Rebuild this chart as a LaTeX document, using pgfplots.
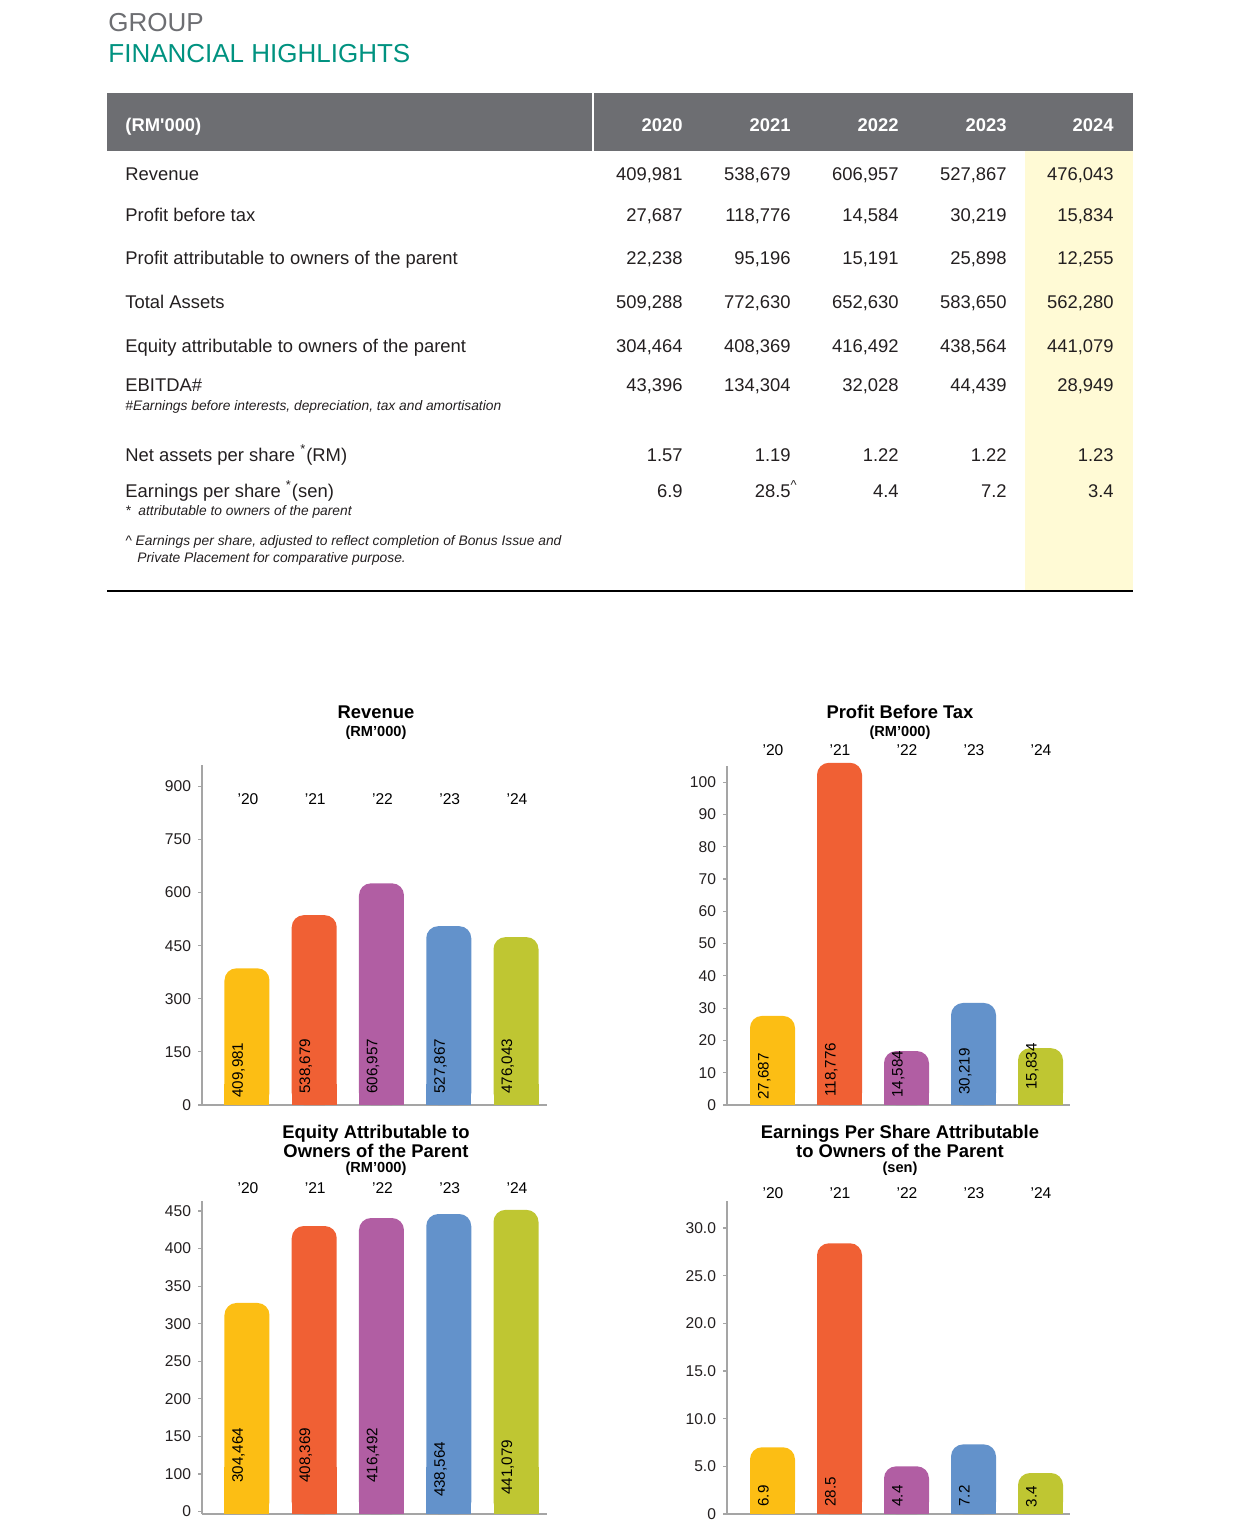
\documentclass[border=0pt]{standalone}
\usepackage{fontspec}
\setmainfont{Liberation Sans}
\usepackage{pgfplots}
\pgfplotsset{compat=1.18}

\definecolor{hdrgray}{RGB}{109,110,114}
\definecolor{fhteal}{RGB}{0,146,128}
\definecolor{colyel}{RGB}{255,250,213}
\definecolor{cY}{RGB}{252,190,20}
\definecolor{cO}{RGB}{240,96,52}
\definecolor{cP}{RGB}{177,94,163}
\definecolor{cB}{RGB}{99,146,203}
\definecolor{cG}{RGB}{191,198,50}
\definecolor{axgray}{RGB}{165,165,165}
\definecolor{txt}{RGB}{35,31,32}

\newcommand\fs[1]{\fontsize{#1}{#1}\selectfont}

% one bar with a rounded top: colour, x, height, height of square foot
\newcommand\rbar[4]{%
  \addplot[ybar, bar width=22.5pt, bar shift=0pt, fill=#1, draw=none, rounded corners=6pt, forget plot] coordinates {(#2,#3)};
  \addplot[ybar, bar width=22.5pt, bar shift=0pt, fill=#1, draw=none, forget plot] coordinates {(#2,#4)};
}
% vertical value label at the foot of a bar: x, y of text start, text
\newcommand\blab[3]{%
  \addplot[draw=none, forget plot, nodes near coords, point meta=explicit symbolic,
    nodes near coords style={font=\fs{7.6}, text=black, anchor=base west, inner sep=0pt,
      xshift=-2pt, rotate=90}] coordinates {(#1,#2) [#3]};
}

\pgfplotsset{fhbar/.style={
  scale only axis, clip=false,
  axis x line=bottom, axis y line=left,
  axis line style={-, draw=axgray, line width=1pt},
  xtick=\empty,
  tick align=outside, major tick length=2pt,
  ytick style={draw=axgray, line width=0.6pt},
  yticklabel style={font=\fs{7.8}, text=txt},
  /pgf/number format/assume math mode=true,
  ymin=0,
}}

\tikzset{
  tl/.style={anchor=base west, inner sep=0pt, text=txt, font=\fs{9.2}},
  tn/.style={anchor=base east, inner sep=0pt, text=txt, font=\fs{9.2}},
  nt/.style={anchor=base west, inner sep=0pt, text=txt, font=\fs{6.9}\itshape},
  th/.style={anchor=base east, inner sep=0pt, text=white, font=\fs{9.2}\bfseries},
  ct/.style={anchor=base, inner sep=0pt, text=black, font=\fs{9.2}\bfseries},
  cs/.style={anchor=base, inner sep=0pt, text=black, font=\fs{7.3}\bfseries},
  yr/.style={anchor=base, inner sep=0pt, text=black, font=\fs{7.8}},
}

\newcommand\trow[7]{%
  \node[tl] at (125,#1) {#2};
  \node[tn] at (683,#1) {#3};
  \node[tn] at (791,#1) {#4};
  \node[tn] at (899,#1) {#5};
  \node[tn] at (1007,#1) {#6};
  \node[tn] at (1114,#1) {#7};
}
\newcommand\years[3]{% y, x of first, step
  \node[yr] at (#2,#1) {’20};
  \node[yr] at (#2+#3,#1) {’21};
  \node[yr] at (#2+2*#3,#1) {’22};
  \node[yr] at (#2+3*#3,#1) {’23};
  \node[yr] at (#2+4*#3,#1) {’24};
}

\begin{document}
\begin{tikzpicture}
\begin{scope}[x=0.5pt, y=-0.5pt]
\path[use as bounding box] (0,0) rectangle (1240,1536);

% heading
\node[anchor=base west, inner sep=0pt, text=hdrgray, font=\fs{13}] at (108,32) {GROUP};
\node[anchor=base west, inner sep=0pt, text=fhteal, font=\fs{13}] at (108,63) {FINANCIAL HIGHLIGHTS};

% table frame
\fill[hdrgray] (107,93) rectangle (1133,151);
\draw[white, line width=1pt] (593,93) -- (593,151);
\fill[colyel] (1025,151) rectangle (1133,591);
\draw[black, line width=1pt] (107,591) -- (1133,591);

\node[anchor=base west, inner sep=0pt, text=white, font=\fs{9.2}\bfseries] at (125,132) {(RM\textquotesingle000)};
\node[th] at (683,132) {2020};
\node[th] at (791,132) {2021};
\node[th] at (899,132) {2022};
\node[th] at (1007,132) {2023};
\node[th] at (1114,132) {2024};

\trow{180}{Revenue}{409,981}{538,679}{606,957}{527,867}{476,043}
\trow{221}{Profit before tax}{27,687}{118,776}{14,584}{30,219}{15,834}
\trow{264}{Profit attributable to owners of the parent}{22,238}{95,196}{15,191}{25,898}{12,255}
\trow{308}{Total Assets}{509,288}{772,630}{652,630}{583,650}{562,280}
\trow{352}{Equity attributable to owners of the parent}{304,464}{408,369}{416,492}{438,564}{441,079}
\trow{391}{EBITDA\#}{43,396}{134,304}{32,028}{44,439}{28,949}
\node[nt] at (125,410) {\#Earnings before interests, depreciation, tax and amortisation};
\trow{461}{Net assets per share \textsuperscript{*}(RM)}{1.57}{1.19}{1.22}{1.22}{1.23}
\trow{497}{Earnings per share \textsuperscript{*}(sen)}{6.9}{28.5\rlap{\textsuperscript{\^{}}}}{4.4}{7.2}{3.4}
\node[nt] at (125,515) {*\ \ attributable to owners of the parent};
\node[nt] at (125,545) {\^{} Earnings per share, adjusted to reflect completion of Bonus Issue and};
\node[nt] at (137,562) {Private Placement for comparative purpose.};

% chart titles
\node[ct] at (376,718) {Revenue};
\node[cs] at (376,736) {(RM’000)};
\node[ct] at (900,718) {Profit Before Tax};
\node[cs] at (900,736) {(RM’000)};
\node[ct] at (376,1138) {Equity Attributable to};
\node[ct] at (376,1157) {Owners of the Parent};
\node[cs] at (376,1172) {(RM’000)};
\node[ct] at (900,1138) {Earnings Per Share Attributable};
\node[ct] at (900,1157) {to Owners of the Parent};
\node[cs] at (900,1172) {(sen)};

\years{804}{248}{67.25}
\years{755}{773}{67}
\years{1193}{248}{67.25}
\years{1198}{773}{67}

\coordinate (A1) at (202,1105);
\coordinate (A2) at (727,1105);
\coordinate (A3) at (202,1514);
\coordinate (A4) at (727,1514);
\end{scope}

% Revenue
\begin{axis}[fhbar, at={(A1)}, anchor=south west,
  width=172.5pt, height=170pt, xmin=-0.669, xmax=4.461, ymax=960,
  ytick={0,150,300,450,600,750,900}]
\rbar{cY}{0}{386}{60}
\rbar{cO}{1}{536}{60}
\rbar{cP}{2}{626}{60}
\rbar{cB}{3}{505}{60}
\rbar{cG}{4}{474}{60}
\blab{0}{20}{409,981}
\blab{1}{31}{538,679}
\blab{2}{31}{606,957}
\blab{3}{31}{527,867}
\blab{4}{31}{476,043}
\end{axis}

% Profit before tax
\begin{axis}[fhbar, at={(A2)}, anchor=south west,
  width=171.5pt, height=169.5pt, xmin=-0.679, xmax=4.44, ymax=105,
  ytick={0,10,...,100}]
\rbar{cY}{0}{27.6}{7}
\rbar{cO}{1}{106}{7}
\rbar{cP}{2}{16.7}{7}
\rbar{cB}{3}{31.6}{7}
\rbar{cG}{4}{17.6}{7}
\blab{0}{1.5}{27,687}
\blab{1}{2.5}{118,776}
\blab{2}{2.2}{14,584}
\blab{3}{3.1}{30,219}
\blab{4}{4.6}{15,834}
\end{axis}

% Equity: the scale is broken, the foot of the axis is labelled 0
\begin{axis}[fhbar, at={(A3)}, anchor=south west,
  width=172.5pt, height=156.5pt, xmin=-0.669, xmax=4.461, ymin=46.77, ymax=463.3,
  ytick={50,100,150,200,250,300,350,400,450},
  yticklabels={0,100,150,200,250,300,350,400,450}]
\rbar{cY}{0}{327.6}{110}
\rbar{cO}{1}{430}{110}
\rbar{cP}{2}{440.7}{110}
\rbar{cB}{3}{446}{110}
\rbar{cG}{4}{451.5}{110}
\blab{0}{88}{304,464}
\blab{1}{88}{408,369}
\blab{2}{88}{416,492}
\blab{3}{69}{438,564}
\blab{4}{72}{441,079}
\end{axis}

% EPS
\begin{axis}[fhbar, at={(A4)}, anchor=south west,
  width=171.5pt, height=156.5pt, xmin=-0.679, xmax=4.44, ymax=32.83,
  ytick={0,5,...,30}, yticklabels={0,5.0,10.0,15.0,20.0,25.0,30.0}]
\rbar{cY}{0}{7.0}{2.5}
\rbar{cO}{1}{28.4}{2.5}
\rbar{cP}{2}{5.0}{2.5}
\rbar{cB}{3}{7.3}{2.5}
\rbar{cG}{4}{4.3}{2.5}
\blab{0}{0.73}{6.9}
\blab{1}{0.73}{28.5}
\blab{2}{0.73}{4.4}
\blab{3}{0.73}{7.2}
\blab{4}{0.65}{3.4}
\end{axis}
\end{tikzpicture}
\end{document}
